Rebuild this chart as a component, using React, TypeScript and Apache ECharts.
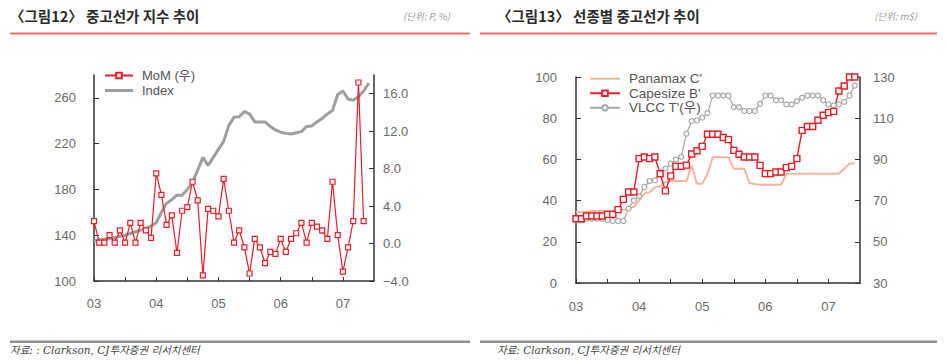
import React, { useEffect, useRef } from "react";
import * as echarts from "echarts";

// ---- data (monthly, Jan 2003 = index 0) ----
const yearLabels = ["03", "04", "05", "06", "07"];

// Figure 12: MoM change (%) right axis, Index (P) left axis
const momValues = [
  2.4, 0.1, 0.1, 0.9, 0.1, 1.4, 0.1, 2.2, 0.1, 2.2,
  1.4, 0.6, 7.5, 5.2, 2.0, 3.0, -1.0, 3.5, 3.9, 6.6,
  4.6, -3.4, 3.7, 3.5, 2.9, 6.9, 3.5, 0.1, 1.4, -0.4,
  -3.2, 0.5, -0.4, -2.1, -0.9, -1.1, 0.5, -0.9, 0.5, 1.1,
  2.2, 0.1, 2.2, 1.8, 1.4, 0.5, 6.6, 0.9, -3.0, -0.4,
  2.4, 17.2, 2.4,
];
const indexValues = [
  135, 136, 136.5, 137, 138, 139, 140, 141.5, 143, 144.5,
  146, 148, 151, 160, 168, 171, 175, 175, 180, 186,
  197, 208, 201, 208, 215, 222, 236, 243, 243.5, 248,
  246, 239, 239, 239, 235, 232, 230, 229, 228.5, 229.5,
  230.5, 235, 235.5, 239, 242, 246, 249, 263, 266, 259,
  258, 261, 266, 273,
];

// Figure 13: second-hand prices by ship type (m$)
const panamaxValues = [
  34.5, 34.5, 34.5, 35, 35, 35, 35, 35, 35.5, 35.5,
  36, 37, 40, 43.5, 44, 46.5, 47, 49, 49.5, 49.5,
  49.5, 49.5, 57, 48.2, 48.2, 53, 61, 61, 61, 61,
  55.5, 55.5, 55.5, 48.5, 48, 47.7, 47.7, 47.7, 47.7, 47.7,
  53, 53, 53, 53, 53, 53, 53, 53, 53, 53,
  53, 55.5, 58, 58,
];
const capesizeValues = [
  31.2, 31.2, 32.5, 32.5, 32.5, 32.5, 33.3, 33.3, 35.6, 40.6,
  44.2, 44.2, 60.4, 61.2, 60.4, 61.2, 53, 44.7, 52, 56.6,
  56.6, 57.2, 62.6, 64.2, 66.3, 72.2, 72.2, 72.2, 70.6, 69.6,
  64.4, 62.5, 61.2, 61.2, 61.2, 57.1, 53.1, 53.1, 53.9, 53.9,
  56, 56.6, 60.4, 74.1, 76, 76, 79, 81.4, 82.7, 83.3,
  93.2, 95.6, 100, 100,
];
const vlccValues = [
  60.4, 60.4, 61.2, 61.2, 61.2, 61.2, 60.7, 60.1, 60.1, 60.1,
  66.1, 70.1, 72.1, 76.6, 79.5, 79.8, 83.9, 85.5, 87.9, 89.9,
  91.2, 102.5, 108.6, 109, 110.3, 112.5, 121, 121, 121, 121,
  115.4, 115.4, 113.5, 113.5, 113.5, 117, 121, 121, 118.7, 118.7,
  116.7, 116.7, 118.3, 120, 121, 121, 121, 118.7, 116.7, 116.2,
  116.7, 117.9, 121, 125.8,
];

const SANS = "'Liberation Sans', Arial, 'Noto Sans CJK KR', sans-serif";
const KR = "'Noto Sans CJK KR', sans-serif";
const SERIF = "'DejaVu Serif', 'Noto Sans CJK KR', serif";
const RED = "#ee1c25";
const AXIS = "#333";
const LABEL = "#6a6a6a";

const toPairs = (arr: number[]) => arr.map((v, i) => [i, v]);

function xAxisFor(gridIndex: number, margin: number) {
  return {
    gridIndex,
    type: "value",
    min: 0,
    max: 54,
    interval: 6,
    axisLine: { show: true, onZero: false, lineStyle: { color: AXIS, width: 1.5 } },
    axisTick: { show: true, inside: true, length: 4, lineStyle: { color: AXIS, width: 1 } },
    axisLabel: {
      margin,
      color: LABEL,
      fontSize: 13,
      fontFamily: SANS,
      showMaxLabel: false,
      formatter: (v: number) => (v % 12 === 0 ? yearLabels[v / 12] ?? "" : ""),
    },
    splitLine: { show: false },
  };
}

function yAxisFor(
  gridIndex: number,
  position: string,
  min: number,
  max: number,
  interval: number,
  margin: number,
  fmt: (v: number) => string
) {
  // the top end is only labelled when it falls on a tick step
  const maxOnStep = Math.abs(((max - min) / interval) % 1) < 1e-9;
  return {
    gridIndex,
    type: "value",
    position,
    min,
    max,
    interval,
    axisLine: { show: true, onZero: false, lineStyle: { color: AXIS, width: 1.5 } },
    axisTick: { show: true, inside: true, length: 5, lineStyle: { color: AXIS, width: 1 } },
    axisLabel: {
      margin,
      color: LABEL,
      fontSize: 13,
      fontFamily: SANS,
      showMaxLabel: maxOnStep,
      formatter: (v: number) => (v === max && !maxOnStep ? "" : fmt(v)),
    },
    splitLine: { show: false },
  };
}

export default function App() {
  const ref = useRef<HTMLDivElement>(null);

  useEffect(() => {
    if (!ref.current) return;
    const chart = echarts.init(ref.current, null, { renderer: "svg" });

    const option: any = {
      animation: false,
      backgroundColor: "#fff",
      textStyle: { fontFamily: SANS },
      grid: [
        { left: 94, right: 573, top: 75, bottom: 83 },
        { left: 576, right: 87, top: 77, bottom: 81 },
      ],
      xAxis: [xAxisFor(0, 16), xAxisFor(1, 17)],
      yAxis: [
        yAxisFor(0, "left", 100, 280, 40, 18, (v) => String(v)),
        yAxisFor(0, "right", -4, 18, 4, 9, (v) =>
          (v < 0 ? "\u2212" + Math.abs(v).toFixed(1) : v.toFixed(1))
        ),
        yAxisFor(1, "left", 0, 100, 20, 19, (v) => String(v)),
        yAxisFor(1, "right", 30, 130, 20, 13, (v) => String(v)),
      ],
      legend: [
        {
          data: [
            { name: "MoM (우)" },
            { name: "Index", icon: "path://M0,0L28,0L28,3L0,3Z" },
          ],
          orient: "vertical",
          left: 104,
          top: 69,
          padding: 0,
          itemGap: 2,
          itemWidth: 28,
          itemHeight: 7,
          textStyle: { fontSize: 13, color: "#555", fontFamily: SANS, padding: [0, 0, 0, 4] },
        },
        {
          data: [
            { name: "Panamax C'", icon: "path://M0,0L30,0L30,2L0,2Z" },
            { name: "Capesize B'" },
            { name: "VLCC T'(우)" },
          ],
          orient: "vertical",
          left: 589,
          top: 72,
          padding: 0,
          itemGap: 1,
          itemWidth: 30,
          itemHeight: 7,
          textStyle: { fontSize: 13.5, color: "#555", fontFamily: SANS, padding: [0, 0, 0, 4] },
        },
      ],
      series: [
        {
          name: "Index",
          type: "line",
          xAxisIndex: 0,
          yAxisIndex: 0,
          data: toPairs(indexValues),
          showSymbol: false,
          symbol: "none",
          lineStyle: { color: "#9e9e9e", width: 3 },
          itemStyle: { color: "#9e9e9e" },
        },
        {
          name: "MoM (우)",
          type: "line",
          xAxisIndex: 0,
          yAxisIndex: 1,
          data: toPairs(momValues),
          symbol: "rect",
          symbolSize: 5,
          lineStyle: { color: RED, width: 1.2 },
          itemStyle: { color: "#fff", borderColor: RED, borderWidth: 1.2 },
        },
        {
          name: "Panamax C'",
          type: "line",
          xAxisIndex: 1,
          yAxisIndex: 2,
          data: toPairs(panamaxValues),
          symbol: "none",
          lineStyle: { color: "#f8b49c", width: 2 },
          itemStyle: { color: "#f8b49c" },
        },
        {
          name: "VLCC T'(우)",
          type: "line",
          xAxisIndex: 1,
          yAxisIndex: 3,
          data: toPairs(vlccValues),
          symbol: "circle",
          symbolSize: 5,
          lineStyle: { color: "#a6a6a6", width: 1.2 },
          itemStyle: { color: "#fff", borderColor: "#a6a6a6", borderWidth: 1.2 },
        },
        {
          name: "Capesize B'",
          type: "line",
          xAxisIndex: 1,
          yAxisIndex: 2,
          data: toPairs(capesizeValues),
          symbol: "rect",
          symbolSize: 6,
          lineStyle: { color: RED, width: 1.4 },
          itemStyle: { color: "#fff", borderColor: RED, borderWidth: 1.4 },
        },
      ],
      graphic: [
        {
          type: "text",
          left: 10,
          top: 8,
          style: { text: "〈그림12〉 중고선가 지수 추이", font: `bold 14.5px ${KR}`, fill: "#2a2a2a" },
        },
        {
          type: "text",
          right: 947 - 450,
          top: 11,
          style: { text: "(단위: P, %)", font: `italic 9.5px ${KR}`, fill: "#999" },
        },
        { type: "rect", shape: { x: 10, y: 32.5, width: 460, height: 2 }, style: { fill: "#f26b6b" } },
        {
          type: "text",
          left: 497,
          top: 8,
          style: { text: "〈그림13〉 선종별 중고선가 추이", font: `bold 14.5px ${KR}`, fill: "#2a2a2a" },
        },
        {
          type: "text",
          right: 947 - 917,
          top: 11,
          style: { text: "(단위: m$)", font: `italic 9.5px ${KR}`, fill: "#999" },
        },
        { type: "rect", shape: { x: 480, y: 32.5, width: 457, height: 2 }, style: { fill: "#f26b6b" } },
        { type: "rect", shape: { x: 10, y: 340.5, width: 460, height: 2.5 }, style: { fill: "#8e8e8e" } },
        { type: "rect", shape: { x: 480, y: 340.5, width: 457, height: 2.5 }, style: { fill: "#8e8e8e" } },
        {
          type: "text",
          left: 10,
          top: 345,
          style: { text: "자료: : Clarkson, CJ투자증권 리서치센터", font: `italic 10.5px ${SERIF}`, fill: "#444" },
        },
        {
          type: "text",
          left: 497,
          top: 345,
          style: { text: "자료: Clarkson, CJ투자증권 리서치센터", font: `italic 10.5px ${SERIF}`, fill: "#444" },
        },
      ],
    };

    chart.setOption(option);
    return () => chart.dispose();
  }, []);

  return (
    <div
      ref={ref}
      style={{ position: "fixed", left: 0, top: 0, width: 947, height: 364, background: "#fff" }}
    />
  );
}
